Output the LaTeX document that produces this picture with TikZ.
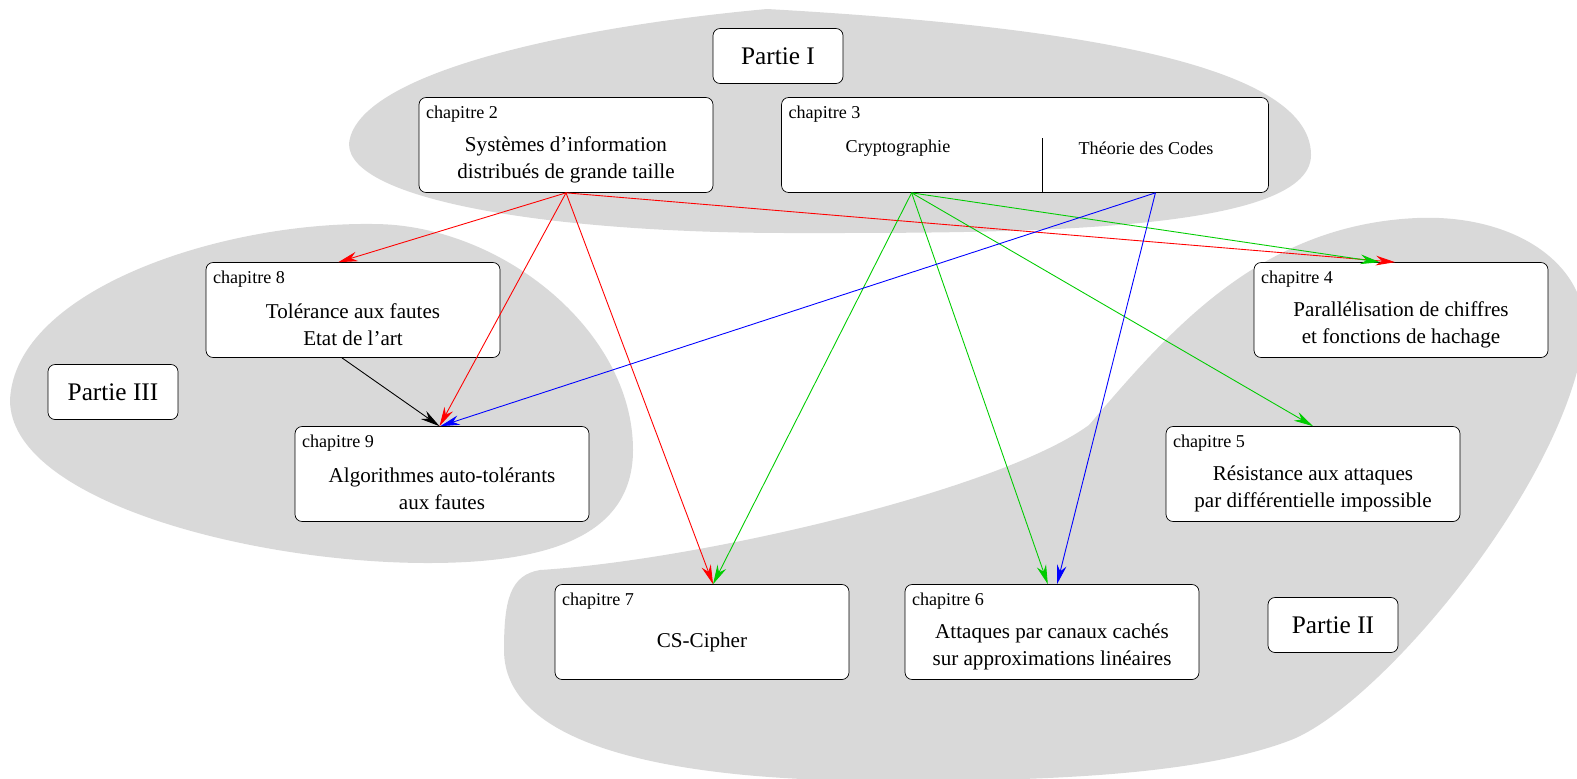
\documentclass[tikz,border=0pt]{standalone}
\usepackage{fontspec}
\setmainfont{Liberation Serif}
\usetikzlibrary{calc,positioning,arrows.meta}
\colorlet{PartSurface}{black!15}
\definecolor{LinkGreen}{RGB}{0,204,0}

\begin{document}
\begin{tikzpicture}[x=0.02cm, y=-0.02cm,
    chapBox/.style={draw, fill=white, rounded corners=4pt, minimum width=5.88cm, minimum height=1.9cm},
    chapLabel/.style={inner sep=0pt, font=\fontsize{10.3}{12}\selectfont},
    chapText/.style={align=center, inner sep=0pt, font=\fontsize{12}{15.2}\selectfont},
    partBox/.style={draw, fill=white, rounded corners=4pt, minimum width=2.6cm, minimum height=1.1cm, font=\fontsize{14.4}{17}\selectfont},
    link/.style={-{Stealth[length=11pt, width=5.5pt, inset=3.5pt]}, line width=0.5pt}]

    \useasboundingbox (0,0) rectangle (1577,778);

    % ---------- Fonds des parties
    % Partie I
    \fill[PartSurface] (767,9)
        .. controls (1050,25) and (1311,60) .. (1311,155)
        .. controls (1311,235) and (1000,233) .. (790,233)
        .. controls (550,233) and (349,200) .. (349,144)
        .. controls (355,75) and (560,28) .. cycle;
    % Partie III
    \fill[PartSurface] (373,224)
        .. controls (500,224) and (633,330) .. (633,450)
        .. controls (633,540) and (540,563) .. (428,563)
        .. controls (250,563) and (10,500) .. (10,400)
        .. controls (15,290) and (220,222) .. cycle;
    % Partie II
    \fill[PartSurface] (1417,218)
        .. controls (1510,214) and (1585,260) .. (1585,330)
        .. controls (1570,480) and (1380,705) .. (1291,740)
        .. controls (1200,775) and (1050,781) .. (888,781)
        .. controls (650,781) and (504,740) .. (504,650)
        .. controls (504,600) and (510,575) .. (540,570)
        .. controls (700,560) and (1000,490) .. (1089,425)
        .. controls (1170,330) and (1260,225) .. cycle;

    % ---------- Partie I
    \node[partBox] (partOne) at (778,56) {Partie I};

    \node[chapBox] (ch2) at (566,145) {};
    \node[chapLabel, below right=4.8pt and 4pt of ch2.north west] (ch2Label) {chapitre 2};
    \node[chapText] (ch2Text) at ($(ch2)+(0,15)$) {Systèmes d'information\\distribués de grande taille};

    \node[chapBox, minimum width=9.74cm] (ch3) at (1025,145) {};
    \node[chapLabel, below right=4.8pt and 4pt of ch3.north west] (ch3Label) {chapitre 3};
    \node[chapLabel] (ch3Crypto) at (898,148) {Cryptographie};
    \node[chapLabel] (ch3Codes) at (1146,148) {Théorie des Codes};
    \coordinate (ch3Split) at (1042,138);
    \draw (ch3Split) -- (ch3Split |- ch3.south);
    \coordinate (cryptoFoot) at ($(ch3.south west)!0.5!(ch3Split |- ch3.south)$);
    \coordinate (codesFoot) at ($(ch3.south east)!0.5!(ch3Split |- ch3.south)$);

    % ---------- Partie II
    \node[partBox] (partTwo) at (1333,625) {Partie II};

    \node[chapBox] (ch4) at (1401,310) {};
    \node[chapLabel, below right=4.8pt and 4pt of ch4.north west] (ch4Label) {chapitre 4};
    \node[chapText] (ch4Text) at ($(ch4)+(0,15)$) {Parallélisation de chiffres\\et fonctions de hachage};

    \node[chapBox] (ch5) at (1313,474) {};
    \node[chapLabel, below right=4.8pt and 4pt of ch5.north west] (ch5Label) {chapitre 5};
    \node[chapText] (ch5Text) at ($(ch5)+(0,15)$) {Résistance aux attaques\\par différentielle impossible};

    \node[chapBox] (ch6) at (1052,632) {};
    \node[chapLabel, below right=4.8pt and 4pt of ch6.north west] (ch6Label) {chapitre 6};
    \node[chapText] (ch6Text) at ($(ch6)+(0,15)$) {Attaques par canaux cachés\\sur approximations linéaires};

    \node[chapBox] (ch7) at (702,632) {};
    \node[chapLabel, below right=4.8pt and 4pt of ch7.north west] (ch7Label) {chapitre 7};
    \node[chapText] (ch7Text) at ($(ch7)+(0,10)$) {CS-Cipher};

    % ---------- Partie III
    \node[partBox] (partThree) at (113,392) {Partie III};

    \node[chapBox] (ch8) at (353,310) {};
    \node[chapLabel, below right=4.8pt and 4pt of ch8.north west] (ch8Label) {chapitre 8};
    \node[chapText] (ch8Text) at ($(ch8)+(0,15)$) {Tolérance aux fautes\\Etat de l'art};

    \node[chapBox] (ch9) at (442,474) {};
    \node[chapLabel, below right=4.8pt and 4pt of ch9.north west] (ch9Label) {chapitre 9};
    \node[chapText] (ch9Text) at ($(ch9)+(0,15)$) {Algorithmes auto-tolérants\\aux fautes};

    % ---------- Dépendances
    \draw[link, red] (ch2.south) -- (ch8.107);
    \draw[link, red] (ch2.south) -- (ch9.93);
    \draw[link, red] (ch2.south) -- (ch7.77);
    \draw[link, red] (ch2.south) -- (ch4.97);
    \draw[link, LinkGreen] (cryptoFoot) -- (ch4.114);
    \draw[link, LinkGreen] (cryptoFoot) -- (ch5.north);
    \draw[link, LinkGreen] (cryptoFoot) -- (ch6.95);
    \draw[link, LinkGreen] (cryptoFoot) -- (ch7.77);
    \draw[link, blue] (codesFoot) -- (ch9.92);
    \draw[link, blue] (codesFoot) -- (ch6.84);
    \draw[link] (ch8.257) -- (ch9.93);

\end{tikzpicture}
\end{document}
